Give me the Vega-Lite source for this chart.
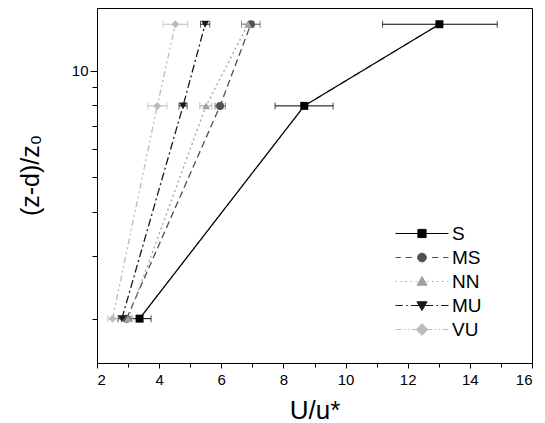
{
  "$schema": "https://vega.github.io/schema/vega-lite/v6.json",
  "width": 435,
  "height": 355,
  "autosize": {"type": "none"},
  "padding": {"left": 97, "top": 8, "right": 13, "bottom": 60},
  "background": "white",
  "config": {
    "view": {"stroke": "black", "strokeWidth": 1},
    "font": "Liberation Sans",
    "axis": {
      "grid": false,
      "domainColor": "black",
      "tickColor": "black",
      "labelColor": "black",
      "titleColor": "black",
      "labelFont": "Liberation Sans",
      "titleFont": "Liberation Sans",
      "titleFontWeight": "normal",
      "labelFontSize": 15
    }
  },
  "data": {
    "values": [
      {"series": "S", "z": 2, "u": 3.37, "lo": 3.0, "hi": 3.74},
      {"series": "S", "z": 7.95, "u": 8.67, "lo": 7.73, "hi": 9.6},
      {"series": "S", "z": 13.5, "u": 13.02, "lo": 11.19, "hi": 14.88},
      {"series": "MS", "z": 2, "u": 2.95, "lo": 2.8, "hi": 3.1},
      {"series": "MS", "z": 7.95, "u": 5.96, "lo": 5.8, "hi": 6.13},
      {"series": "MS", "z": 13.5, "u": 6.95, "lo": 6.65, "hi": 7.25},
      {"series": "NN", "z": 2, "u": 3.0, "lo": 2.85, "hi": 3.15},
      {"series": "NN", "z": 7.95, "u": 5.51, "lo": 5.31, "hi": 5.69},
      {"series": "NN", "z": 13.5, "u": 6.86, "lo": 6.65, "hi": 7.07},
      {"series": "MU", "z": 2, "u": 2.8, "lo": 2.68, "hi": 2.92},
      {"series": "MU", "z": 7.95, "u": 4.77, "lo": 4.64, "hi": 4.9},
      {"series": "MU", "z": 13.5, "u": 5.48, "lo": 5.33, "hi": 5.63},
      {"series": "VU", "z": 2, "u": 2.5, "lo": 2.35, "hi": 2.65},
      {"series": "VU", "z": 7.95, "u": 3.94, "lo": 3.63, "hi": 4.25},
      {"series": "VU", "z": 13.5, "u": 4.52, "lo": 4.13, "hi": 4.92}
    ]
  },
  "encoding": {
    "y": {
      "field": "z",
      "type": "quantitative",
      "scale": {"type": "log", "domain": [1.5, 15], "nice": false},
      "axis": {
        "title": "(z-d)/z₀",
        "titleFontSize": 25,
        "titlePadding": 28,
        "titleY": 167,
        "values": [2, 3, 4, 5, 6, 7, 8, 9, 10],
        "labelExpr": "datum.value == 10 ? '10' : ''",
        "tickSize": {"condition": {"test": "datum.value == 10", "value": 7}, "value": 5},
        "labelPadding": 2
      }
    },
    "color": {
      "field": "series",
      "type": "nominal",
      "scale": {"domain": ["S", "MS", "NN", "MU", "VU"], "range": ["#000000", "#505050", "#a0a0a0", "#1a1a1a", "#bbbbbb"]},
      "legend": null
    }
  },
  "layer": [
    {
      "mark": {"type": "line", "strokeWidth": 1.3},
      "encoding": {
        "x": {
          "field": "u",
          "type": "quantitative",
          "scale": {"domain": [2, 16], "nice": false, "zero": false},
          "axis": {
            "title": "U/u*",
            "titleFontSize": 26,
            "titlePadding": 10,
            "values": [2, 3, 4, 5, 6, 7, 8, 9, 10, 11, 12, 13, 14, 15, 16],
            "labelExpr": "datum.value % 2 == 0 ? datum.label : ''",
            "tickSize": {"condition": {"test": "datum.value % 2 == 0", "value": 5}, "value": 4},
            "labelPadding": 4
          }
        },
        "order": {"field": "z", "type": "quantitative"},
        "strokeDash": {
          "field": "series",
          "type": "nominal",
          "scale": {"domain": ["S", "MS", "NN", "MU", "VU"], "range": [[1, 0], [7, 4], [2, 3], [8, 3, 2, 3], [6, 3, 2, 3, 2, 3]]},
          "legend": null
        }
      }
    },
    {
      "mark": {"type": "rule", "strokeWidth": 1},
      "encoding": {
        "x": {
          "field": "lo",
          "type": "quantitative",
          "scale": {"domain": [2, 16], "nice": false, "zero": false},
          "axis": {
            "title": "U/u*",
            "titleFontSize": 26,
            "titlePadding": 10,
            "values": [2, 3, 4, 5, 6, 7, 8, 9, 10, 11, 12, 13, 14, 15, 16],
            "labelExpr": "datum.value % 2 == 0 ? datum.label : ''",
            "tickSize": {"condition": {"test": "datum.value % 2 == 0", "value": 5}, "value": 4},
            "labelPadding": 4
          }
        },
        "x2": {"field": "hi"}
      }
    },
    {
      "mark": {"type": "tick", "orient": "vertical", "size": 7, "thickness": 1},
      "encoding": {
        "x": {
          "field": "lo",
          "type": "quantitative",
          "scale": {"domain": [2, 16], "nice": false, "zero": false},
          "axis": {
            "title": "U/u*",
            "titleFontSize": 26,
            "titlePadding": 10,
            "values": [2, 3, 4, 5, 6, 7, 8, 9, 10, 11, 12, 13, 14, 15, 16],
            "labelExpr": "datum.value % 2 == 0 ? datum.label : ''",
            "tickSize": {"condition": {"test": "datum.value % 2 == 0", "value": 5}, "value": 4},
            "labelPadding": 4
          }
        }
      }
    },
    {
      "mark": {"type": "tick", "orient": "vertical", "size": 7, "thickness": 1},
      "encoding": {
        "x": {
          "field": "hi",
          "type": "quantitative",
          "scale": {"domain": [2, 16], "nice": false, "zero": false},
          "axis": {
            "title": "U/u*",
            "titleFontSize": 26,
            "titlePadding": 10,
            "values": [2, 3, 4, 5, 6, 7, 8, 9, 10, 11, 12, 13, 14, 15, 16],
            "labelExpr": "datum.value % 2 == 0 ? datum.label : ''",
            "tickSize": {"condition": {"test": "datum.value % 2 == 0", "value": 5}, "value": 4},
            "labelPadding": 4
          }
        }
      }
    },
    {
      "mark": {"type": "point", "filled": true, "size": 64, "opacity": 1},
      "encoding": {
        "x": {
          "field": "u",
          "type": "quantitative",
          "scale": {"domain": [2, 16], "nice": false, "zero": false},
          "axis": {
            "title": "U/u*",
            "titleFontSize": 26,
            "titlePadding": 10,
            "values": [2, 3, 4, 5, 6, 7, 8, 9, 10, 11, 12, 13, 14, 15, 16],
            "labelExpr": "datum.value % 2 == 0 ? datum.label : ''",
            "tickSize": {"condition": {"test": "datum.value % 2 == 0", "value": 5}, "value": 4},
            "labelPadding": 4
          }
        },
        "shape": {
          "field": "series",
          "type": "nominal",
          "scale": {"domain": ["S", "MS", "NN", "MU", "VU"], "range": ["square", "circle", "triangle-up", "triangle-down", "diamond"]},
          "legend": null
        }
      }
    },
    {
      "mark": {"type": "point", "filled": true, "opacity": 0},
      "encoding": {
        "x": {
          "field": "u",
          "type": "quantitative",
          "scale": {"domain": [2, 16], "nice": false, "zero": false},
          "axis": {
            "title": "U/u*",
            "titleFontSize": 26,
            "titlePadding": 10,
            "values": [2, 3, 4, 5, 6, 7, 8, 9, 10, 11, 12, 13, 14, 15, 16],
            "labelExpr": "datum.value % 2 == 0 ? datum.label : ''",
            "tickSize": {"condition": {"test": "datum.value % 2 == 0", "value": 5}, "value": 4},
            "labelPadding": 4
          }
        },
        "shape": {
          "field": "series",
          "type": "nominal",
          "scale": {
            "domain": ["S", "MS", "NN", "MU", "VU"],
            "range": [
              "M-1,0H1M-0.155,-0.155H0.155V0.155H-0.155Z",
              "M-1,0H-0.8M-0.62,0H-0.38M0.38,0H0.62M0.8,0H1M0.165,0A0.165,0.165,0,1,1,-0.165,0A0.165,0.165,0,1,1,0.165,0Z",
              "M-1,0H-0.95M-0.81,0H-0.76M-0.62,0H-0.57M-0.43,0H-0.38M-0.24,0H-0.19M0.19,0H0.24M0.38,0H0.43M0.57,0H0.62M0.76,0H0.81M0.95,0H1M0,-0.19L0.19,0.14L-0.19,0.14Z",
              "M-1,0H-0.72M-0.6,0H-0.54M-0.42,0H0.42M0.54,0H0.6M0.72,0H1M-0.19,-0.14L0.19,-0.14L0,0.19Z",
              "M-1,0H-0.78M-0.68,0H-0.63M-0.53,0H-0.48M-0.38,0H-0.2M0.2,0H0.38M0.48,0H0.53M0.63,0H0.68M0.78,0H1M0,-0.22L0.22,0L0,0.22L-0.22,0Z"
            ]
          },
          "legend": {
            "orient": "none",
            "legendX": 298,
            "legendY": 214.5,
            "title": null,
            "symbolSize": 2809,
            "symbolStrokeWidth": 1,
            "symbolOpacity": 1,
            "symbolFillColor": {"expr": "datum.value=='S'?'#000000':datum.value=='MS'?'#505050':datum.value=='NN'?'#a0a0a0':datum.value=='MU'?'#1a1a1a':'#bbbbbb'"},
            "symbolStrokeColor": {"expr": "datum.value=='S'?'#000000':datum.value=='MS'?'#505050':datum.value=='NN'?'#a0a0a0':datum.value=='MU'?'#1a1a1a':'#bbbbbb'"},
            "clipHeight": 22,
            "rowPadding": 2,
            "labelFontSize": 19,
            "labelFont": "Liberation Sans",
            "labelColor": "black",
            "labelOffset": 3
          }
        }
      }
    }
  ],
  "resolve": {"scale": {"shape": "independent"}}
}
